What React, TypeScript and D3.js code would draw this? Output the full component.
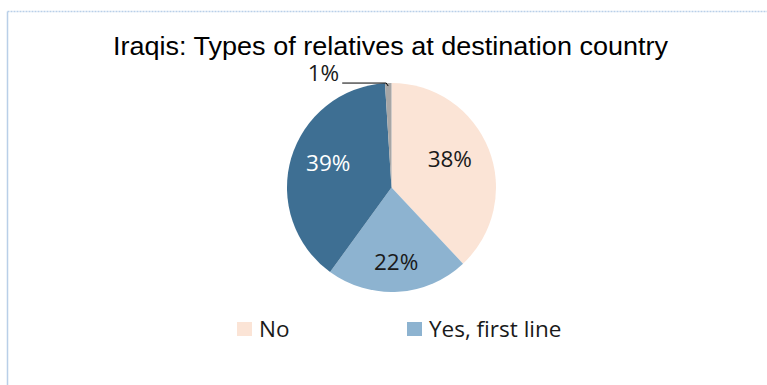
import React from "react";
import * as d3 from "d3";

const categories = ["No", "Yes, first line", "Yes, second line", "Other"];
const values = [38, 22, 39, 1];
const labels = ["38%", "22%", "39%", "1%"];
const colors = ["#fbe4d6", "#8db3d0", "#3e6f93", "#a6a6a6"];
const labelColors = ["#1a1a1a", "#1a1a1a", "#ffffff", "#1a1a1a"];
const legendItems = ["No", "Yes, first line"];
const title = "Iraqis: Types of relatives at destination country";

export default function App() {
  const W = 767, H = 385;
  const cx = 391.5, cy = 187.5, r = 104.5;
  const pie = d3.pie<number>().sort(null).value((d) => d);
  const arcs = pie(values);
  const arc = d3.arc<d3.PieArcDatum<number>>().innerRadius(0).outerRadius(r);
  const labelRadius = [0.6, 0.71, 0.63, 0.6];
  const labelShiftY = [-6, 0, -6, 0];
  const font = "'Open Sans', sans-serif";
  const fs = 22.5;
  const legendX = d3.scalePoint<string>().domain(legendItems).range([237, 407]);
  return (
    <svg width={W} height={H} style={{ position: "absolute", left: 0, top: 0 }}>
      <rect x={0} y={0} width={W} height={H} fill="#fff" />
      <line x1={7.5} y1={11.5} x2={767} y2={11.5} stroke="#b9cfe8" strokeWidth={1.5} strokeDasharray="2,1" />
      <line x1={7.5} y1={11.5} x2={7.5} y2={385} stroke="#b9cfe8" strokeWidth={1.5} />
      <text x={390.5} y={55} textAnchor="middle" fontFamily="'Liberation Sans', Arial, sans-serif" fontSize={25} textLength={555} lengthAdjust="spacingAndGlyphs" fill="#000">
        {title}
      </text>
      <g transform={`translate(${cx},${cy})`}>
        {arcs.map((a, i) => (
          <path key={categories[i]} d={arc(a) || ""} fill={colors[i]} />
        ))}
        {arcs.map((a, i) => {
          if (i === 3) return null;
          const la = d3.arc<d3.PieArcDatum<number>>().innerRadius(r * labelRadius[i]).outerRadius(r * labelRadius[i]);
          const [lx, ly] = la.centroid(a);
          return (
            <text key={"l" + i} x={lx} y={ly + labelShiftY[i]} dy="0.36em" textAnchor="middle" fontFamily={font} fontSize={fs} fill={labelColors[i]}>
              {labels[i]}
            </text>
          );
        })}
        {(() => {
          const a = arcs[3];
          const mid = (a.startAngle + a.endAngle) / 2;
          const px = Math.sin(mid) * r;
          const py = -Math.cos(mid) * r;
          return (
            <g>
              <polyline points={`${px},${py + 3} ${px - 2},${py} ${px - 46},${py}`} fill="none" stroke="#000" strokeWidth={1} />
              <text x={px - 49} y={py - 2.5} textAnchor="end" fontFamily={font} fontSize={fs} fill="#1a1a1a">
                {labels[3]}
              </text>
            </g>
          );
        })()}
      </g>
      {legendItems.map((c, i) => (
        <g key={c} transform={`translate(${legendX(c)},322)`}>
          <rect x={0} y={0} width={15} height={14} fill={colors[i]} />
          <text x={22} y={15} fontFamily={font} fontSize={fs} fill="#1a1a1a">{c}</text>
        </g>
      ))}
    </svg>
  );
}
